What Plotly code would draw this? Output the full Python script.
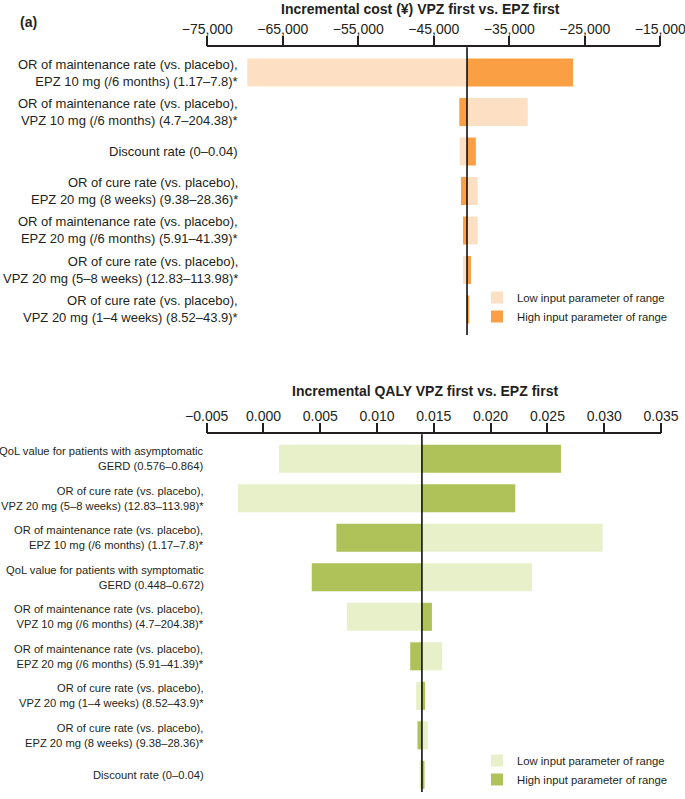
import plotly.graph_objects as go

# ---------------- data ----------------
cost_labels = [
    "OR of maintenance rate (vs. placebo),<br>EPZ 10 mg (/6 months) (1.17–7.8)*",
    "OR of maintenance rate (vs. placebo),<br>VPZ 10 mg (/6 months) (4.7–204.38)*",
    "Discount rate (0–0.04)",
    "OR of cure rate (vs. placebo),<br>EPZ 20 mg (8 weeks) (9.38–28.36)*",
    "OR of maintenance rate (vs. placebo),<br>EPZ 20 mg (/6 months) (5.91–41.39)*",
    "OR of cure rate (vs. placebo),<br>VPZ 20 mg (5–8 weeks) (12.83–113.98)*",
    "OR of cure rate (vs. placebo),<br>VPZ 20 mg (1–4 weeks) (8.52–43.9)*",
]
cost_base = -40600
cost_low = [-69700, -32560, -41570, -39190, -39190, -41130, -40650]
cost_high = [-26560, -41620, -39430, -41400, -41130, -40070, -40300]
cost_ticks = [-75000, -65000, -55000, -45000, -35000, -25000, -15000]

qaly_labels = [
    "QoL value for patients with asymptomatic<br>GERD (0.576–0.864)",
    "OR of cure rate (vs. placebo),<br>VPZ 20 mg (5–8 weeks) (12.83–113.98)*",
    "OR of maintenance rate (vs. placebo),<br>EPZ 10 mg (/6 months) (1.17–7.8)*",
    "QoL value for patients with symptomatic<br>GERD (0.448–0.672)",
    "OR of maintenance rate (vs. placebo),<br>VPZ 10 mg (/6 months) (4.7–204.38)*",
    "OR of maintenance rate (vs. placebo),<br>EPZ 20 mg (/6 months) (5.91–41.39)*",
    "OR of cure rate (vs. placebo),<br>VPZ 20 mg (1–4 weeks) (8.52–43.9)*",
    "OR of cure rate (vs. placebo),<br>EPZ 20 mg (8 weeks) (9.38–28.36)*",
    "Discount rate (0–0.04)",
]
qaly_base = 0.01395
qaly_low = [0.00137, -0.00226, 0.02986, 0.02364, 0.00734, 0.01574, 0.01344, 0.01447, 0.01374]
qaly_high = [0.02619, 0.02217, 0.00642, 0.00425, 0.01483, 0.01292, 0.01423, 0.01356, 0.01418]
qaly_ticks = [-0.005, 0.0, 0.005, 0.010, 0.015, 0.020, 0.025, 0.030, 0.035]

legend_names = ["Low input parameter of range", "High input parameter of range"]

# ---------------- style ----------------
W, H = 685, 799
FONT = "Liberation Sans, Arial, Helvetica, sans-serif"
TXT = "#231f20"
ORANGE_LIGHT = "#fddfc3"
ORANGE_DARK = "#fb9f45"
GREEN_LIGHT = "#e8f0c9"
GREEN_DARK = "#afc159"

fig = go.Figure()

def add_pair(labels, base, low, high, cl, cd, xa, ya, leg):
    fig.add_trace(go.Bar(
        y=labels, x=[v - base for v in low], base=base, orientation="h",
        marker=dict(color=cl, line=dict(width=0)), width=0.71,
        name=legend_names[0], xaxis=xa, yaxis=ya, legend=leg))
    fig.add_trace(go.Bar(
        y=labels, x=[v - base for v in high], base=base, orientation="h",
        marker=dict(color=cd, line=dict(width=0)), width=0.71,
        name=legend_names[1], xaxis=xa, yaxis=ya, legend=leg))

add_pair(cost_labels, cost_base, cost_low, cost_high, ORANGE_LIGHT, ORANGE_DARK, "x", "y", "legend")
add_pair(qaly_labels, qaly_base, qaly_low, qaly_high, GREEN_LIGHT, GREEN_DARK, "x2", "y2", "legend2")

axis_common = dict(
    side="top", showgrid=False, zeroline=False, showline=True, automargin=False,
    linecolor=TXT, linewidth=1.5, ticks="outside", ticklen=10, tickwidth=1.5,
    tickcolor=TXT, tickfont=dict(size=14, color=TXT, family=FONT),
    ticklabeloverflow="allow", ticklabelstandoff=-4,
)

fig.update_layout(
    width=W, height=H, margin=dict(l=0, r=0, t=0, b=0, autoexpand=False),
    paper_bgcolor="white", plot_bgcolor="white",
    barmode="overlay", font=dict(family=FONT, color=TXT),
    xaxis=dict(axis_common, anchor="y", domain=[207.3 / W, 660.3 / W],
               range=[cost_ticks[0], cost_ticks[-1]], tickvals=cost_ticks,
               tickformat=","),
    yaxis=dict(domain=[1 - 335 / H, 1 - 47.3 / H], type="category",
               categoryorder="array", categoryarray=cost_labels, automargin=False,
               range=[6.646, -0.638], visible=False),
    xaxis2=dict(axis_common, anchor="y2", domain=[206.7 / W, 661 / W],
                range=[qaly_ticks[0], qaly_ticks[-1]], tickvals=qaly_ticks,
                tickformat=".3f"),
    yaxis2=dict(domain=[1 - 792 / H, 1 - 434.3 / H], type="category",
                categoryorder="array", categoryarray=qaly_labels, automargin=False,
                range=[8.435, -0.62], visible=False),
    legend=dict(x=477 / W, y=1 - 283 / H, xanchor="left", yanchor="top",
                font=dict(size=11.3, color=TXT, family=FONT),
                bgcolor="rgba(0,0,0,0)", traceorder="normal"),
    legend2=dict(x=477 / W, y=1 - 746 / H, xanchor="left", yanchor="top",
                 font=dict(size=11.3, color=TXT, family=FONT),
                 bgcolor="rgba(0,0,0,0)", traceorder="normal"),
    showlegend=True,
)

# baseline vertical lines
fig.add_shape(type="line", xref="x", yref="y domain", x0=cost_base, x1=cost_base,
              y0=0, y1=1, line=dict(color="black", width=1.5))
fig.add_shape(type="line", xref="x2", yref="y2 domain", x0=qaly_base, x1=qaly_base,
              y0=0, y1=1, line=dict(color="black", width=1.5))

# row labels
for i, lab in enumerate(cost_labels):
    fig.add_annotation(text=lab, xref="paper", yref="y", x=240 / W, y=i,
                       xanchor="right", yanchor="middle", align="right",
                       showarrow=False, font=dict(size=13.0, color=TXT, family=FONT))
for i, lab in enumerate(qaly_labels):
    fig.add_annotation(text=lab, xref="paper", yref="y2", x=206 / W, y=i,
                       xanchor="right", yanchor="middle", align="right",
                       showarrow=False, font=dict(size=11.2, color=TXT, family=FONT))

# titles
fig.add_annotation(text="<b>Incremental cost (¥) VPZ first vs. EPZ first</b>",
                   xref="paper", yref="paper", x=420 / W, y=1 - 9 / H,
                   xanchor="center", yanchor="middle", showarrow=False,
                   font=dict(size=14, color=TXT, family=FONT))
fig.add_annotation(text="<b>Incremental QALY VPZ first vs. EPZ first</b>",
                   xref="paper", yref="paper", x=425 / W, y=1 - 391 / H,
                   xanchor="center", yanchor="middle", showarrow=False,
                   font=dict(size=14, color=TXT, family=FONT))
fig.add_annotation(text="<b>(a)</b>", xref="paper", yref="paper",
                   x=18 / W, y=1 - 22 / H, xanchor="left", yanchor="middle",
                   showarrow=False, font=dict(size=14, color=TXT, family=FONT))

fig.write_html("out.html", config={"displayModeBar": False},
               post_script="document.body.style.margin='0';")
